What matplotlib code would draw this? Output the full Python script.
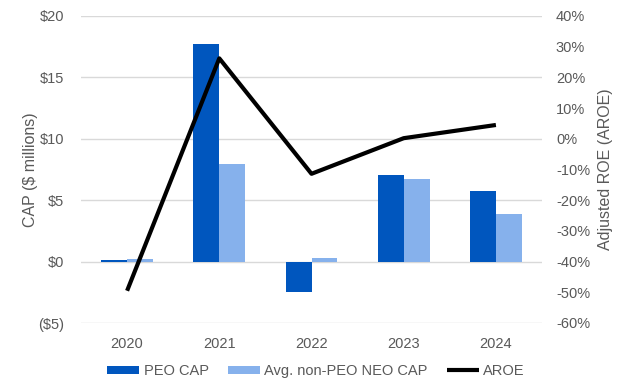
import numpy as np
import matplotlib.pyplot as plt
from matplotlib.ticker import FuncFormatter

years = ["2020", "2021", "2022", "2023", "2024"]
peo_cap = [0.15, 17.75, -2.5, 7.08, 5.78]
neo_cap = [0.25, 7.98, 0.33, 6.76, 3.91]
aroe = [-49.5, 26.2, -11.4, 0.2, 4.5]

plt.rcParams['font.family'] = ['Liberation Sans', 'DejaVu Sans']
grey = '#595959'

fig = plt.figure(figsize=(6.32, 3.91), dpi=100)
ax = fig.add_axes([81 / 632, 1 - 323 / 391, 461 / 632, 307 / 391])
ax2 = ax.twinx()

x = np.arange(len(years))
w = 0.28
b1 = ax.bar(x - w / 2, peo_cap, w, color='#0056BE', label='PEO CAP', zorder=2)
b2 = ax.bar(x + w / 2, neo_cap, w, color='#86B1EC', label='Avg. non-PEO NEO CAP', zorder=2)
l1, = ax2.plot(x, aroe, color='black', lw=3, label='AROE', solid_capstyle='butt')

ax.set_xlim(-0.5, 4.5)
ax.set_ylim(-5, 20)
ax.set_yticks([-5, 0, 5, 10, 15, 20])
ax.yaxis.set_major_formatter(FuncFormatter(lambda v, p: f"(${-v:.0f})" if v < 0 else f"${v:.0f}"))
ax2.set_ylim(-60, 40)
ax2.set_yticks(range(-60, 41, 10))
ax2.yaxis.set_major_formatter(FuncFormatter(lambda v, p: f"{v:.0f}%"))

ax.set_xticks(x)
ax.set_xticklabels(years)
ax.grid(axis='y', color='#d9d9d9', lw=1, zorder=0)
ax.set_axisbelow(True)
for a in (ax, ax2):
    for s in a.spines.values():
        s.set_visible(False)
    a.tick_params(length=0, labelsize=10.5, colors=grey)
ax.tick_params(axis='y', pad=12)
ax.tick_params(axis='x', pad=10)
ax2.tick_params(axis='y', pad=10)

ax.set_ylabel('CAP ($ millions)', fontsize=11.5, color=grey, labelpad=0)
ax2.set_ylabel('Adjusted ROE (AROE)', fontsize=11.5, color=grey, labelpad=6)

fig.legend([b1, b2, l1], ['PEO CAP', 'Avg. non-PEO NEO CAP', 'AROE'],
           loc='center', bbox_to_anchor=(0.5, 1 - 371 / 391), ncol=3, frameon=False,
           fontsize=10.5, labelcolor=grey, handlelength=2.2, handletextpad=0.3,
           columnspacing=1.3, handleheight=0.5)

fig.savefig('out.png', dpi=100)
